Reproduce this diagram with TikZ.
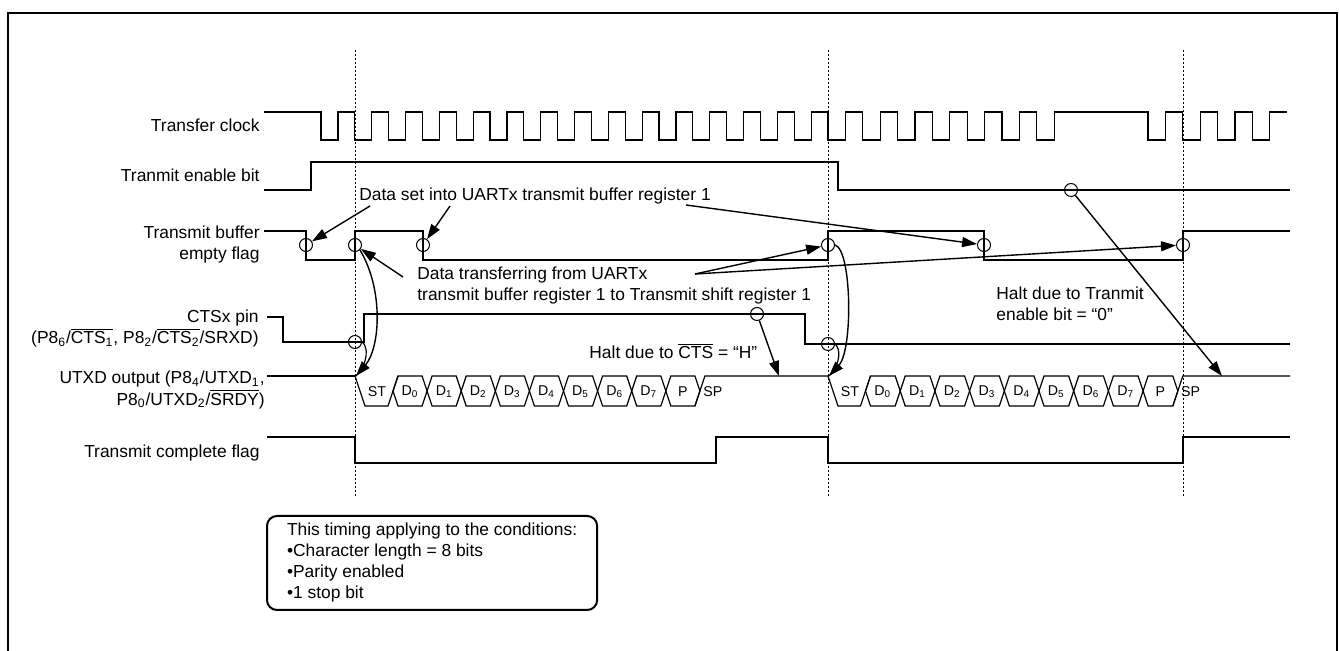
\documentclass[tikz,border=0pt]{standalone}
\usepackage{fontspec}
\setmainfont{Liberation Sans}
\usetikzlibrary{arrows.meta}

% barra superior y subindices de los pines
\newcommand{\ovl}[1]{$\overline{\mbox{#1}}$}
\newcommand{\sbs}[1]{\textsubscript{#1}}

\tikzset{
  signal/.style={line width=0.6pt},
  guide/.style={line width=0.5pt, dash pattern=on 1pt off 1pt},
  ring/.style={draw, circle, minimum size=6.5pt, inner sep=0pt, line width=0.5pt},
  pointer/.style={line width=0.7pt, -{Triangle[length=7.5pt,width=5pt]}},
  siglabel/.style={anchor=east, inner sep=0pt, align=right},
  note/.style={anchor=west, inner sep=0pt, align=left},
  bitlabel/.style={inner sep=0pt, font=\fontsize{7.1}{8}\selectfont},
}

\begin{document}
\begin{tikzpicture}[x=0.5pt, y=-0.5pt, font=\fontsize{8.7}{10.5}\selectfont]
    \useasboundingbox (0,0) rectangle (1339,651);

    % Marco exterior
    \draw[line width=1.2pt] (8,670) -- (8,13) -- (1337,13) -- (1337,670);

    % Lineas punteadas de referencia
    \foreach \gx in {355,828,1183}
      \draw[guide] (\gx,50) -- (\gx,497);

    % Nombres de las senales
    \node[siglabel] (lclk) at (260,125) {Transfer clock};
    \node[siglabel] (lten) at (260,175) {Tranmit enable bit};
    \node[siglabel] (lbuf) at (260,245) {Transmit buffer\\empty flag};
    \node[siglabel] (lcts) at (259,329) {CTSx pin\\(P8\sbs{6}/\ovl{CTS\sbs{1}}, P8\sbs{2}/\ovl{CTS\sbs{2}}/SRXD)};
    \node[siglabel] (ltxd) at (265,390) {UTXD output (P8\sbs{4}/UTXD\sbs{1},\\P8\sbs{0}/UTXD\sbs{2}/\ovl{SRDY})};
    \node[siglabel] (ltc) at (260,453) {Transmit complete flag};

    % Reloj de transferencia
    \draw[signal] (264,112)
      \foreach \i in {0,...,14}{ -- ({321+33.8*\i},112) -- ({321+33.8*\i},140) -- ({337.9+33.8*\i},140) -- ({337.9+33.8*\i},112) }
      \foreach \i in {0,...,6}{ -- ({828+34.8*\i},112) -- ({828+34.8*\i},140) -- ({845.4+34.8*\i},140) -- ({845.4+34.8*\i},112) }
      \foreach \i in {0,...,3}{ -- ({1148+34.8*\i},112) -- ({1148+34.8*\i},140) -- ({1165.4+34.8*\i},140) -- ({1165.4+34.8*\i},112) }
      -- (1287,112);

    % Bit de habilitacion
    \draw[signal] (264,190) -- (311,190) -- (311,162) -- (838,162) -- (838,190) -- (1290,190);

    % Bandera de buffer vacio
    \draw[signal] (264,231) -- (306,231) -- (306,260) -- (355,260) -- (355,231) -- (423,231) -- (423,260)
      -- (828,260) -- (828,231) -- (984,231) -- (984,260) -- (1183,260) -- (1183,231) -- (1290,231);

    % Pin CTS
    \draw[signal] (267,317) -- (283,317) -- (283,342) -- (364,342) -- (364,314) -- (805,314) -- (805,344) -- (1290,344);

    % Salida UTXD
    \draw[signal] (267,376) -- (355,376);
    \foreach \st/\cz/\dx/\en [count=\f] in {355/393/34.1/828, 828/865.5/34.7/1290} {
      % bit de arranque
      \draw[signal] (\st,376) -- ({\st+10},406) -- ({\cz-5},406) -- ({\cz+5},376);
      \node[bitlabel] (st\f) at ({\st+22},392) {ST};
      % datos y paridad
      \foreach \lab [count=\k from 0] in {D\sbs{0},D\sbs{1},D\sbs{2},D\sbs{3},D\sbs{4},D\sbs{5},D\sbs{6},D\sbs{7},P} {
        \pgfmathsetmacro{\xa}{\cz+\k*\dx}
        \pgfmathsetmacro{\xb}{\xa+\dx}
        \draw[signal] (\xa,391) -- ({\xa+5},376) -- ({\xb-5},376) -- (\xb,391) -- ({\xb-5},406) -- ({\xa+5},406) -- cycle;
        \node[bitlabel] (bit\f-\k) at ({(\xa+\xb)/2},392) {\lab};
      }
      % bit de parada
      \pgfmathsetmacro{\xs}{\cz+9*\dx}
      \draw[signal] ({\xs-5},406) -- ({\xs+5},376) -- (\en,376);
      \node[bitlabel, anchor=west] (sp\f) at ({\xs+3},392) {SP};
    }

    % Bandera de transmision completa
    \draw[signal] (267,437) -- (355,437) -- (355,463) -- (716,463) -- (716,437) -- (828,437) -- (828,463)
      -- (1183,463) -- (1183,437) -- (1290,437);

    % Circulos de los eventos
    \node[ring] (rb1) at (306,245) {};
    \node[ring] (rb2) at (355,245) {};
    \node[ring] (rb3) at (423,245) {};
    \node[ring] (rb4) at (828,245) {};
    \node[ring] (rb5) at (984,245) {};
    \node[ring] (rb6) at (1183,245) {};
    \node[ring] (rc1) at (355,342) {};
    \node[ring] (rc2) at (828,344) {};
    \node[ring] (rh1) at (757,314) {};
    \node[ring] (rh2) at (1071,190) {};

    % Dato escrito en el buffer
    \node[note] (tset) at (359,196) {Data set into UARTx transmit buffer register 1};
    \coordinate (pa) at (370,206);
    \coordinate (pb) at (450,206);
    \coordinate (pc) at (686,205);
    \draw[pointer] (pa) -- (rb1);
    \draw[pointer] (pb) -- (rb3);
    \draw[pointer] (pc) -- (rb5);

    % Transferencia al registro de desplazamiento
    \node[note] (ttr) at (417,286) {Data transferring from UARTx\\transmit buffer register 1 to Transmit shift register 1};
    \coordinate (pd) at (403,277);
    \coordinate (pe) at (695,274);
    \draw[pointer] (pd) -- (rb2);
    \draw[pointer] (pe) -- (rb4);
    \draw[pointer] (pe) -- (rb6);

    % Inicio de cada trama
    \coordinate (tx1) at (356,376);
    \coordinate (tx2) at (829,376);
    \draw[pointer] (rb2.south east) .. controls (384,290) and (380,348) .. (tx1);
    \draw[signal] (rc1.east) .. controls (368,346) and (369,362) .. (tx1);
    \draw[pointer] (rb4.east) .. controls (852,250) and (853,350) .. (tx2);
    \draw[signal] (rc2.east) .. controls (840,348) and (842,362) .. (tx2);

    % Paro por CTS
    \node[note] (thc) at (589,351) {Halt due to \ovl{CTS} = “H”};
    \coordinate (ph1) at (779,376);
    \draw[pointer] (rh1) -- (ph1);

    % Paro por bit de habilitacion
    \node[note] (the) at (996,304) {Halt due to Tranmit\\enable bit = “0”};
    \coordinate (ph2) at (1222,376);
    \draw[pointer] (rh2) -- (ph2);

    % Condiciones
    \node[draw, rounded corners=5pt, line width=1pt, anchor=north west, align=left,
          inner xsep=10pt, minimum height=47pt] (cond) at (266,515)
      {This timing applying to the conditions:\\•Character length = 8 bits\\•Parity enabled\\•1 stop bit};

\end{tikzpicture}
\end{document}
